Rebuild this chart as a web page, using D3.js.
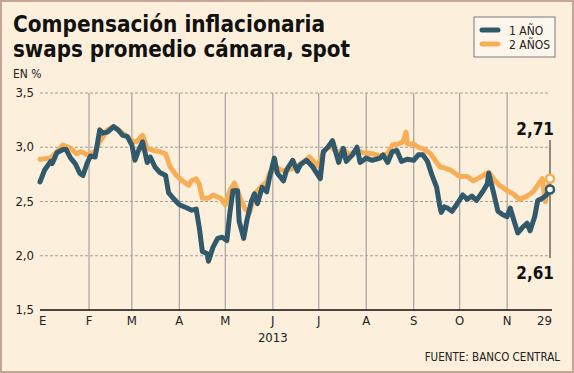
<!DOCTYPE html>
<html>
<head>
<meta charset="utf-8">
<script src="https://cdn.jsdelivr.net/npm/d3@7"></script>
<style>
  html, body { margin: 0; padding: 0; background: #fcefdc; }
  svg { display: block; }
  text { font-family: "DejaVu Sans Condensed", "DejaVu Sans", sans-serif; font-stretch: condensed; }
</style>
</head>
<body>
<div id="grafico"></div>
<script>
// series 1 año
const serie1 = [
  ["2012-12-31",2.68],["2013-01-03",2.79],["2013-01-07",2.87],["2013-01-08",2.85],["2013-01-11",2.95],
  ["2013-01-15",2.98],["2013-01-17",2.98],["2013-01-20",2.90],["2013-01-23",2.85],["2013-01-26",2.76],
  ["2013-01-28",2.74],["2013-01-31",2.86],["2013-02-02",2.92],["2013-02-05",2.91],["2013-02-08",3.16],
  ["2013-02-10",3.13],["2013-02-13",3.14],["2013-02-17",3.19],["2013-02-20",3.16],["2013-02-23",3.11],
  ["2013-02-26",3.10],["2013-03-01",3.02],["2013-03-03",2.88],["2013-03-05",2.96],["2013-03-08",3.05],
  ["2013-03-11",2.86],["2013-03-13",2.91],["2013-03-16",2.82],["2013-03-19",2.77],["2013-03-23",2.74],
  ["2013-03-25",2.58],["2013-03-28",2.53],["2013-04-01",2.47],["2013-04-06",2.44],["2013-04-09",2.42],
  ["2013-04-12",2.43],["2013-04-14",2.26],["2013-04-16",2.04],["2013-04-19",2.02],["2013-04-20",1.95],
  ["2013-04-23",2.08],["2013-04-26",2.16],["2013-04-29",2.17],["2013-05-02",2.14],["2013-05-04",2.40],
  ["2013-05-06",2.60],["2013-05-09",2.60],["2013-05-10",2.32],["2013-05-13",2.16],["2013-05-15",2.32],
  ["2013-05-18",2.50],["2013-05-20",2.57],["2013-05-22",2.48],["2013-05-25",2.63],["2013-05-28",2.59],
  ["2013-05-30",2.73],["2013-06-02",2.90],["2013-06-04",2.76],["2013-06-08",2.69],["2013-06-10",2.79],
  ["2013-06-14",2.88],["2013-06-17",2.78],["2013-06-19",2.84],["2013-06-23",2.88],["2013-06-27",2.82],
  ["2013-07-02",2.71],["2013-07-04",2.96],["2013-07-07",3.00],["2013-07-10",3.06],["2013-07-12",2.96],
  ["2013-07-14",2.86],["2013-07-17",2.99],["2013-07-19",2.87],["2013-07-23",2.93],["2013-07-26",3.00],
  ["2013-07-28",2.86],["2013-08-01",2.90],["2013-08-05",2.88],["2013-08-10",2.90],["2013-08-12",2.93],
  ["2013-08-15",2.86],["2013-08-18",2.96],["2013-08-21",2.97],["2013-08-24",2.87],["2013-08-28",2.89],
  ["2013-09-01",2.88],["2013-09-04",2.93],["2013-09-07",2.93],["2013-09-10",2.87],["2013-09-13",2.74],
  ["2013-09-16",2.63],["2013-09-18",2.46],["2013-09-19",2.40],["2013-09-21",2.45],["2013-09-23",2.44],
  ["2013-09-26",2.41],["2013-09-29",2.47],["2013-10-03",2.56],["2013-10-06",2.52],["2013-10-09",2.55],
  ["2013-10-12",2.51],["2013-10-16",2.59],["2013-10-19",2.66],["2013-10-20",2.76],["2013-10-23",2.59],
  ["2013-10-26",2.41],["2013-10-29",2.38],["2013-11-01",2.36],["2013-11-03",2.44],["2013-11-06",2.30],
  ["2013-11-08",2.21],["2013-11-11",2.26],["2013-11-14",2.30],["2013-11-16",2.23],["2013-11-19",2.36],
  ["2013-11-21",2.51],["2013-11-24",2.53],["2013-11-26",2.55],["2013-11-29",2.61]
];

// series 2 años
const serie2 = [
  ["2012-12-31",2.89],["2013-01-07",2.90],["2013-01-11",2.96],["2013-01-15",3.02],["2013-01-20",2.99],
  ["2013-01-24",2.94],["2013-01-27",2.96],["2013-01-31",2.93],["2013-02-05",2.96],["2013-02-08",3.05],
  ["2013-02-13",3.16],["2013-02-17",3.19],["2013-02-23",3.13],["2013-03-01",3.06],["2013-03-04",3.05],
  ["2013-03-08",3.11],["2013-03-11",2.99],["2013-03-15",2.97],["2013-03-19",2.96],["2013-03-23",2.94],
  ["2013-03-26",2.82],["2013-03-30",2.74],["2013-04-03",2.69],["2013-04-07",2.65],["2013-04-09",2.69],
  ["2013-04-12",2.71],["2013-04-14",2.66],["2013-04-16",2.53],["2013-04-20",2.53],["2013-04-23",2.56],
  ["2013-04-28",2.53],["2013-05-01",2.47],["2013-05-04",2.60],["2013-05-07",2.67],["2013-05-11",2.52],
  ["2013-05-14",2.43],["2013-05-17",2.40],["2013-05-20",2.57],["2013-05-24",2.63],["2013-05-28",2.68],
  ["2013-05-30",2.76],["2013-06-04",2.81],["2013-06-08",2.78],["2013-06-13",2.80],["2013-06-19",2.84],
  ["2013-06-25",2.91],["2013-06-30",2.83],["2013-07-05",2.97],["2013-07-08",3.02],["2013-07-13",2.95],
  ["2013-07-17",2.98],["2013-07-21",2.93],["2013-07-26",2.97],["2013-07-30",2.95],["2013-08-05",2.94],
  ["2013-08-10",2.92],["2013-08-15",2.94],["2013-08-18",3.02],["2013-08-22",3.03],["2013-08-25",3.05],
  ["2013-08-27",3.14],["2013-08-28",3.03],["2013-09-01",3.03],["2013-09-04",3.00],["2013-09-08",2.98],
  ["2013-09-12",2.94],["2013-09-15",2.88],["2013-09-18",2.82],["2013-09-21",2.81],["2013-09-25",2.79],
  ["2013-09-28",2.76],["2013-10-01",2.73],["2013-10-06",2.73],["2013-10-10",2.69],["2013-10-14",2.72],
  ["2013-10-20",2.77],["2013-10-23",2.71],["2013-10-27",2.65],["2013-11-01",2.60],["2013-11-05",2.57],
  ["2013-11-09",2.52],["2013-11-14",2.55],["2013-11-18",2.59],["2013-11-21",2.65],["2013-11-24",2.71],
  ["2013-11-26",2.50],["2013-11-29",2.71]
];

const mesesFechas = ["2013-02-01","2013-03-01","2013-04-01","2013-05-01","2013-06-01",
  "2013-07-01","2013-08-01","2013-09-01","2013-10-01","2013-11-01"];
const mesesEtiquetas = ["F","M","A","M","J","J","A","S","O","N"];
const yTicks = [1.5, 2.0, 2.5, 3.0, 3.5];
const leyenda = ["1 AÑO", "2 AÑOS"];
const colores = ["#30596c", "#f8ae57"];

const parse = d3.timeParse("%Y-%m-%d");
const fmt = d3.format(".1f");
const coma = v => String(v).replace(".", ",");

let dim = {
  ancho: 574,
  alto: 373,
  izq: 40,
  der: 550,
  arriba: 93,
  abajo: 310,
};

const x = d3.scaleTime()
  .domain([parse("2012-12-31"), parse("2013-11-29")])
  .range([dim.izq, dim.der]);

const y = d3.scaleLinear()
  .domain([1.5, 3.5])
  .range([dim.abajo, dim.arriba]);

const svg = d3.select("#grafico")
  .append("svg")
  .attr("width", dim.ancho)
  .attr("height", dim.alto);

// fondo y borde
svg.append("rect")
  .attr("x", 1).attr("y", 1)
  .attr("width", dim.ancho - 2).attr("height", dim.alto - 2)
  .attr("fill", "#fcefdc")
  .attr("stroke", "#c4a495")
  .attr("stroke-width", 2);

// titulo, dos lineas
const lineasTitulo = ["Compensación inflacionaria", "swaps promedio cámara, spot"];
const anchoTitulo = [312, 337];
svg.append("g")
  .selectAll("text")
  .data(lineasTitulo)
  .join("text")
    .attr("x", 13)
    .attr("y", (d, i) => 32 + i * 25)
    .attr("font-weight", "bold")
    .attr("font-size", 23)
    .attr("fill", "#111")
    .attr("textLength", (d, i) => anchoTitulo[i])
    .attr("lengthAdjust", "spacingAndGlyphs")
    .text(d => d);

svg.append("text")
  .attr("x", 13).attr("y", 78)
  .attr("font-size", 12)
  .attr("fill", "#222")
  .text("EN %");

// grilla horizontal
svg.append("g")
  .selectAll("line")
  .data(yTicks.slice(1))
  .join("line")
    .attr("x1", dim.izq).attr("x2", dim.der)
    .attr("y1", d => y(d)).attr("y2", d => y(d))
    .attr("stroke", "#8f8a84")
    .attr("stroke-width", 0.8)
    .attr("stroke-dasharray", "3,2");

// grilla vertical
svg.append("g")
  .selectAll("line")
  .data(mesesFechas)
  .join("line")
    .attr("x1", d => x(parse(d))).attr("x2", d => x(parse(d)))
    .attr("y1", dim.arriba).attr("y2", dim.abajo)
    .attr("stroke", "#a7a29c")
    .attr("stroke-width", 1.2);

// etiquetas eje y
svg.append("g")
  .selectAll("text")
  .data(yTicks)
  .join("text")
    .attr("x", 34)
    .attr("y", d => y(d) + 4)
    .attr("text-anchor", "end")
    .attr("font-size", 13)
    .attr("fill", "#222")
    .text(d => coma(fmt(d)));

// eje x
svg.append("line")
  .attr("x1", dim.izq).attr("x2", dim.der + 2)
  .attr("y1", dim.abajo).attr("y2", dim.abajo)
  .attr("stroke", "#111")
  .attr("stroke-width", 1.5);

const etqX = svg.append("g")
  .attr("font-size", 13)
  .attr("fill", "#222");

etqX.selectAll("text.mes")
  .data(mesesFechas)
  .join("text")
    .attr("class", "mes")
    .attr("x", (d, i) => x(parse(d)))
    .attr("y", dim.abajo + 15)
    .attr("text-anchor", "middle")
    .text((d, i) => mesesEtiquetas[i]);

etqX.append("text")
  .attr("x", x.range()[0] - 1)
  .attr("y", dim.abajo + 15)
  .text("E");

etqX.append("text")
  .attr("x", x.range()[1] + 2)
  .attr("y", dim.abajo + 15)
  .attr("text-anchor", "end")
  .text(d3.timeFormat("%-d")(x.domain()[1]));

etqX.append("text")
  .attr("x", x(parse("2013-06-01")))
  .attr("y", dim.abajo + 32)
  .attr("text-anchor", "middle")
  .text("2013");

svg.append("text")
  .attr("x", 560)
  .attr("y", 361)
  .attr("text-anchor", "end")
  .attr("font-size", 11.5)
  .attr("fill", "#222")
  .text("FUENTE: BANCO CENTRAL");

// lineas
const linea = d3.line()
  .x(d => x(parse(d[0])))
  .y(d => y(d[1]));

[serie2, serie1].forEach((s, i) => {
  svg.append("path")
    .datum(s)
    .attr("d", linea)
    .attr("fill", "none")
    .attr("stroke", colores[1 - i])
    .attr("stroke-width", 5)
    .attr("stroke-linejoin", "round")
    .attr("stroke-linecap", "round");
});

// marcadores finales
const ult1 = serie1[serie1.length - 1];
const ult2 = serie2[serie2.length - 1];

svg.append("line")
  .attr("x1", x(parse(ult1[0]))).attr("x2", x(parse(ult1[0])))
  .attr("y1", 140).attr("y2", 258)
  .attr("stroke", "#222")
  .attr("stroke-width", 1);

[[ult2, colores[1]], [ult1, colores[0]]].forEach(([d, c]) => {
  svg.append("circle")
    .attr("cx", x(parse(d[0])))
    .attr("cy", y(d[1]))
    .attr("r", 4)
    .attr("fill", "#fff")
    .attr("stroke", c)
    .attr("stroke-width", 2.5);
});

svg.append("text")
  .attr("x", x(parse(ult2[0])) + 4)
  .attr("y", 135)
  .attr("text-anchor", "end")
  .attr("font-size", 17)
  .attr("font-weight", "bold")
  .attr("fill", "#111")
  .text(coma(ult2[1].toFixed(2)));

svg.append("text")
  .attr("x", x(parse(ult1[0])) + 4)
  .attr("y", 279)
  .attr("text-anchor", "end")
  .attr("font-size", 17)
  .attr("font-weight", "bold")
  .attr("fill", "#111")
  .text(coma(ult1[1].toFixed(2)));

// leyenda
const ley = svg.append("g").attr("transform", "translate(474,17)");
ley.append("rect")
  .attr("width", 81).attr("height", 40)
  .attr("fill", "#fdf6ec")
  .attr("stroke", "#7a7a7a")
  .attr("stroke-width", 1);

ley.selectAll("g.item")
  .data(leyenda)
  .join("g")
    .attr("class", "item")
    .attr("transform", (d, i) => `translate(0,${13 + i * 14})`)
    .each(function (d, i) {
      const g = d3.select(this);
      g.append("line")
        .attr("x1", 8).attr("x2", 24)
        .attr("stroke", colores[i])
        .attr("stroke-width", 5)
        .attr("stroke-linecap", "round");
      g.append("text")
        .attr("x", 35).attr("y", 4.5)
        .attr("font-size", 12)
        .attr("fill", "#222")
        .text(d);
    });
</script>
</body>
</html>
